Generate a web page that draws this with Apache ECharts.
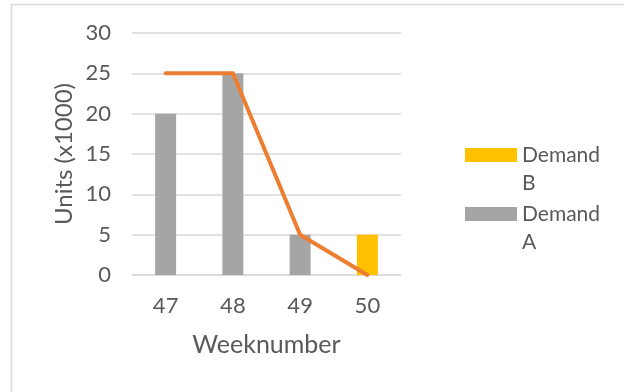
<!DOCTYPE html>
<html>
<head>
<meta charset="utf-8">
<script src="https://cdn.jsdelivr.net/npm/echarts@6/dist/echarts.min.js"></script>
<style>
  html, body { margin: 0; padding: 0; background: #fff; }
  #main { width: 624px; height: 392px; }
</style>
</head>
<body>
<div id="main"></div>
<script>
var weeks = ["47", "48", "49", "50"];
var demandA = [20, 25, 5, 0];
var demandB = [0, 0, 0, 5];
var capacity = [25, 25, 5, 0];
var yTicks = [0, 5, 10, 15, 20, 25, 30];

var myChart = echarts.init(document.getElementById("main"));
var textColor = "#595959";
var font = "Lato, 'Open Sans', sans-serif";

var option = {
  backgroundColor: "#fff",
  animation: false,
  textStyle: { fontFamily: font },
  graphic: [
    {
      type: "rect",
      shape: { x: 11.5, y: 4.5, width: 640, height: 400 },
      style: { fill: "none", stroke: "#d9d9d9", lineWidth: 1.5 },
      silent: true
    }
  ],
  grid: { left: 132, right: 223, top: 33, bottom: 117 },
  legend: {
    orient: "vertical",
    left: 465,
    top: 113,
    padding: 0,
    icon: "rect",
    itemWidth: 52,
    itemHeight: 14,
    itemGap: -25,
    data: ["Demand B", "Demand A"],
    // empty first line keeps the swatch level with "Demand"
    formatter: function (name) { return "\n" + name.replace(" ", "\n"); },
    textStyle: {
      color: textColor,
      fontSize: 21,
      fontFamily: font,
      lineHeight: 28
    }
  },
  xAxis: {
    type: "category",
    data: weeks,
    name: "Weeknumber",
    nameLocation: "middle",
    nameGap: 57,
    nameTextStyle: { color: textColor, fontSize: 25 },
    axisLine: { lineStyle: { color: "#d9d9d9", width: 1.5 } },
    axisTick: { show: false },
    axisLabel: { color: textColor, fontSize: 22, margin: 20 }
  },
  yAxis: {
    type: "value",
    min: yTicks[0],
    max: yTicks[yTicks.length - 1],
    interval: 5,
    name: "Units (x1000)",
    nameLocation: "middle",
    nameGap: 56,
    nameTextStyle: { color: textColor, fontSize: 24 },
    axisLine: { show: false },
    axisTick: { show: false },
    axisLabel: { color: textColor, fontSize: 22, margin: 21 },
    splitLine: { lineStyle: { color: "#d9d9d9", width: 1.5 } }
  },
  series: [
    {
      name: "Demand A",
      type: "bar",
      stack: "demand",
      barWidth: 21,
      itemStyle: { color: "#a5a5a5" },
      data: demandA
    },
    {
      name: "Demand B",
      type: "bar",
      stack: "demand",
      barWidth: 21,
      itemStyle: { color: "#ffc000" },
      data: demandB
    },
    {
      name: "Capacity",
      type: "line",
      symbol: "none",
      lineStyle: { color: "#ed7d31", width: 4, cap: "round", join: "round" },
      itemStyle: { color: "#ed7d31" },
      data: capacity
    }
  ]
};

myChart.setOption(option);
</script>
</body>
</html>
